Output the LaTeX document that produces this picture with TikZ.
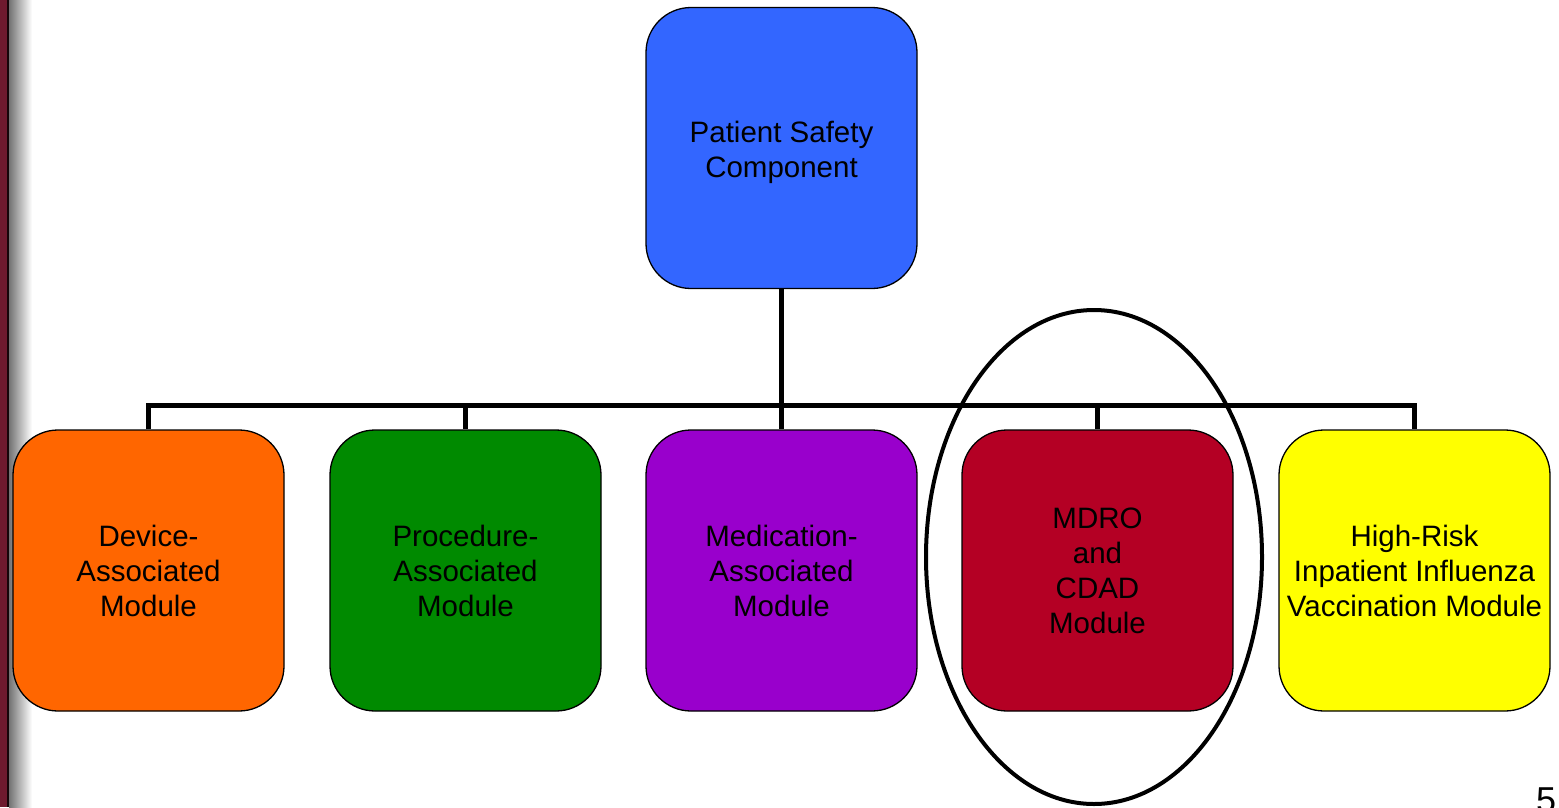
\documentclass[tikz,border=0pt]{standalone}
\usepackage{fontspec}
\setmainfont{Liberation Sans}
\usetikzlibrary{shapes.geometric}
\definecolor{cblue}{HTML}{3366FF}
\definecolor{corange}{HTML}{FF6600}
\definecolor{cgreen}{HTML}{008A00}
\definecolor{cpurple}{HTML}{9900CC}
\definecolor{ccrimson}{HTML}{B40024}
\definecolor{cyellow}{HTML}{FFFF00}
\definecolor{cmaroon}{HTML}{6E1A2E}
\begin{document}
\begin{tikzpicture}[x=1pt,y=-1pt,
  modbox/.style={draw=black,line width=1.3pt,rounded corners=45pt,minimum width=271pt,minimum height=281pt,inner sep=0pt,align=center,font=\fontsize{29.5}{35}\selectfont},
  conn/.style={line width=5pt,line cap=butt}]
\useasboundingbox (0,0) rectangle (1559,807);
\fill[white] (0,0) rectangle (1559,807);
% left stripe
\fill[cmaroon] (0,0) rectangle (7,807);
\fill[black!80!cmaroon] (7,0) rectangle (9,807);
\shade[left color=black!55,right color=white] (9,0) rectangle (32,807);
% nodes
\node[modbox,fill=cblue] (top) at (781.5,148) {\rule{0pt}{30pt}Patient Safety\\Component};
\node[modbox,fill=corange] (m1) at (148.5,570.5) {Device-\\Associated\\Module};
\node[modbox,fill=cgreen] (m2) at (465.5,570.5) {Procedure-\\Associated\\Module};
\node[modbox,fill=cpurple] (m3) at (781.5,570.5) {Medication-\\Associated\\Module};
\node[modbox,fill=ccrimson] (m4) at (1097.5,570.5) {MDRO\\and\\CDAD\\Module};
\node[modbox,fill=cyellow] (m5) at (1414.5,570.5) {High-Risk\\Inpatient Influenza\\Vaccination Module};
% connectors
\coordinate (bus) at (781.5,405);
\draw[conn] (top.south) -- (m3.north);
\draw[conn] (m1.north) -- (m1.north |- bus) -- (m5.north |- bus) -- (m5.north);
\draw[conn] (m2.north |- bus) -- (m2.north);
\draw[conn] (m4.north |- bus) -- (m4.north);
% highlight ellipse
\node[draw=black,line width=4pt,ellipse,minimum width=336pt,minimum height=494pt,inner sep=0pt] (hl) at (1094,557) {};
% page number
\node[anchor=north,inner sep=0pt,font=\fontsize{36}{40}\selectfont] (pg) at (1546,788) {5};
\end{tikzpicture}
\end{document}
